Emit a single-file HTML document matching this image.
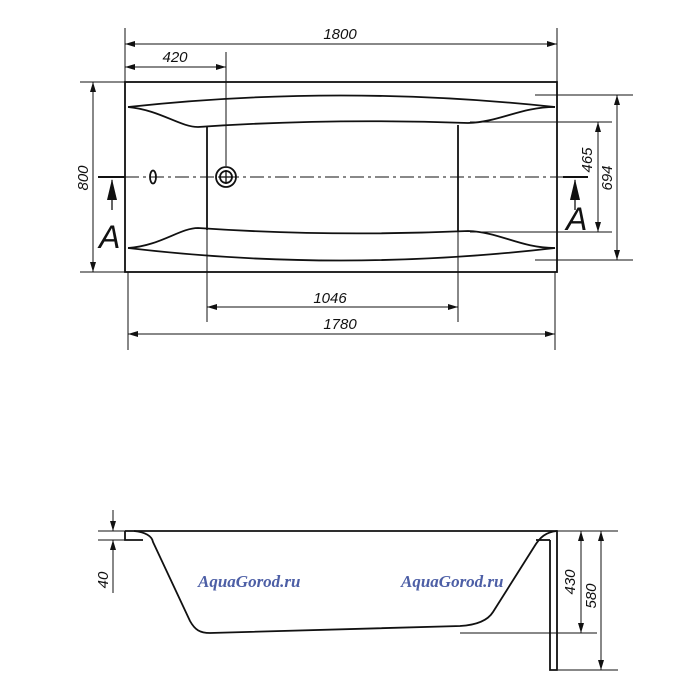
<!DOCTYPE html>
<html><head><meta charset="utf-8"><style>
html,body{margin:0;padding:0;background:#fff}
svg{display:block}
text{font-family:"Liberation Sans",sans-serif;font-style:italic;fill:#111}
</style></head><body>
<svg width="700" height="700" viewBox="0 0 700 700" xmlns="http://www.w3.org/2000/svg">
<defs>
<marker id="ah" viewBox="0 0 10 6" refX="10" refY="3" markerWidth="10" markerHeight="6" orient="auto-start-reverse" markerUnits="userSpaceOnUse"><path d="M0,0 L10,3 L0,6 Z" fill="#111"/></marker>
</defs>
<g stroke="#111" fill="none" stroke-width="1">
<line x1="125" y1="28" x2="125" y2="82"/>
<line x1="557" y1="28" x2="557" y2="82"/>
<line x1="226" y1="52" x2="226" y2="166"/>
<line x1="125" y1="44" x2="557" y2="44" marker-start="url(#ah)" marker-end="url(#ah)"/>
<line x1="125" y1="67" x2="226" y2="67" marker-start="url(#ah)" marker-end="url(#ah)"/>
<line x1="80" y1="82" x2="125" y2="82"/>
<line x1="80" y1="272" x2="125" y2="272"/>
<line x1="93" y1="82" x2="93" y2="272" marker-start="url(#ah)" marker-end="url(#ah)"/>
<line x1="535" y1="95" x2="633" y2="95"/>
<line x1="535" y1="260" x2="633" y2="260"/>
<line x1="470" y1="122" x2="612" y2="122"/>
<line x1="470" y1="232" x2="612" y2="232"/>
<line x1="617" y1="95" x2="617" y2="260" marker-start="url(#ah)" marker-end="url(#ah)"/>
<line x1="598" y1="122" x2="598" y2="232" marker-start="url(#ah)" marker-end="url(#ah)"/>
<line x1="207" y1="230" x2="207" y2="322"/>
<line x1="458" y1="230" x2="458" y2="322"/>
<line x1="128" y1="272" x2="128" y2="350"/>
<line x1="555" y1="272" x2="555" y2="350"/>
<line x1="207" y1="307" x2="458" y2="307" marker-start="url(#ah)" marker-end="url(#ah)"/>
<line x1="128" y1="334" x2="555" y2="334" marker-start="url(#ah)" marker-end="url(#ah)"/>
</g>
<g stroke="#111" fill="none" stroke-width="1.8">
<rect x="125" y="82" width="432" height="190"/>
<path d="M128,107 Q340,84 555,107"/>
<path d="M128,107 C160,110 180,127 198,127 Q330,118 468,123 C500,122 520,107 555,107"/>
<path d="M128,248 Q340,273 555,248"/>
<path d="M128,248 C160,246 180,228 198,228 Q330,237 468,231 C500,232 520,248 555,248"/>
<line x1="207" y1="127" x2="207" y2="230"/>
<line x1="458" y1="125" x2="458" y2="231"/>
<circle cx="226" cy="177" r="10"/>
<circle cx="226" cy="177" r="6"/>
<ellipse cx="153" cy="177" rx="3" ry="6.5"/>
</g>
<g stroke="#111" stroke-width="1.3">
<line x1="226" y1="170" x2="226" y2="184"/><line x1="219" y1="177" x2="233" y2="177"/>
<line x1="100" y1="177" x2="587" y2="177" stroke-dasharray="14,4,3,4" stroke-width="1"/>
<line x1="98" y1="177" x2="125" y2="177" stroke-width="2"/>
<line x1="563" y1="177" x2="588" y2="177" stroke-width="2"/>
<line x1="112" y1="180" x2="112" y2="210"/>
<line x1="575" y1="180" x2="575" y2="210"/>
</g>
<path d="M112,179 L107,200 L117,200 Z" fill="#111"/>
<path d="M575,179 L570,200 L580,200 Z" fill="#111"/>
<text x="99" y="248" font-size="32">A</text>
<text x="566" y="230" font-size="32">A</text>
<g font-size="15" text-anchor="middle">
<text x="340" y="39">1800</text>
<text x="175" y="62">420</text>
<text x="330" y="303">1046</text>
<text x="340" y="329">1780</text>
<text transform="translate(88,178) rotate(-90)">800</text>
<text transform="translate(592,160) rotate(-90)">465</text>
<text transform="translate(612,178) rotate(-90)">694</text>
<text transform="translate(108,580) rotate(-90)">40</text>
<text transform="translate(575,582) rotate(-90)">430</text>
<text transform="translate(596,596) rotate(-90)">580</text>
</g>
<g stroke="#111" fill="none" stroke-width="1">
<line x1="98" y1="531" x2="125" y2="531"/>
<line x1="98" y1="540" x2="125" y2="540"/>
<line x1="113" y1="510" x2="113" y2="531" marker-end="url(#ah)"/>
<line x1="113" y1="593" x2="113" y2="540" marker-end="url(#ah)"/>
<line x1="557" y1="531" x2="618" y2="531"/>
<line x1="460" y1="633" x2="597" y2="633"/>
<line x1="558" y1="670" x2="618" y2="670"/>
<line x1="581" y1="531" x2="581" y2="633" marker-start="url(#ah)" marker-end="url(#ah)"/>
<line x1="601" y1="531" x2="601" y2="670" marker-start="url(#ah)" marker-end="url(#ah)"/>
</g>
<g stroke="#111" fill="none" stroke-width="1.8">
<path d="M125,531 L557,531 L557,670 L550,670 L550,540"/>
<path d="M125,531 L125,540 L143,540"/>
<path d="M134,531 C145,532 152,536 153,542 L190,621 C195,630 200,633 210,633 L460,626 C478,625 488,620 493,612 L534,547 C540,537 546,532 557,531"/>
<path d="M550,540 L536,540"/>
</g>
<text x="198" y="587" font-size="17" font-weight="bold" style="fill:#4d5fa6;font-family:'Liberation Serif',serif">AquaGorod.ru</text>
<text x="401" y="587" font-size="17" font-weight="bold" style="fill:#4d5fa6;font-family:'Liberation Serif',serif">AquaGorod.ru</text>
</svg>
</body></html>
